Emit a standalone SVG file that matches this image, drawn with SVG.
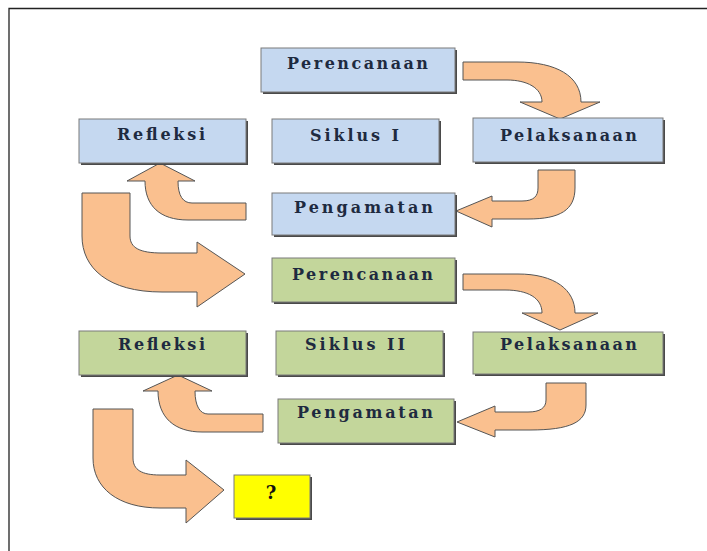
<svg xmlns="http://www.w3.org/2000/svg" width="707" height="551" viewBox="0 0 707 551">
<style>
.sh{fill:#4a4a4a}
.bx{stroke:#7a7a7a;stroke-width:1}
.blue{fill:#c5d8f0}
.green{fill:#c3d69b}
.yel{fill:#ffff00}
.t{font-family:"DejaVu Serif","Liberation Serif",serif;font-weight:bold;font-size:16px;fill:#1e2a40}
.ar{fill:#fac08f;stroke:#555;stroke-width:1;stroke-linejoin:miter}
</style>
<rect width="707" height="551" fill="#ffffff"/>
<path d="M9,551 L9,8.5 L707,8.5" fill="none" stroke="#222" stroke-width="1.3"/>
<g id="connectors">
<path class="ar" d="M463,62 L517,62 C556,62 581,76 581,102 L600,102 L560,119 L520,102 L542,102 C542,88 527,80 507,80 L463,80 Z"/>
<path class="ar" d="M538,170 L575,170 L575,188 C575,210 560,219 528,219 L492,219 L492,227 L456,211 L492,196 L492,201 L522,201 C534,201 538,196 538,188 Z"/>
<path class="ar" d="M246,203 L192,203 C183,203 178,196 178,181 L195,181 L160,163 L127,181 L145,181 C145,206 160,220 188,220 L246,220 Z"/>
<path class="ar" d="M82,193 L130,193 L130,236 C130,248 140,253 162,253 L197,253 L197,242 L245,274 L197,307 L197,292 L162,292 C108,292 82,268 82,236 Z"/>
<path class="ar" d="M463,274 L518,274 C555,274 575,290 575,313 L598,313 L560,330 L522,313 L542,313 C542,298 528,290 505,290 L463,290 Z"/>
<path class="ar" d="M546,383 L586,383 L586,405 C586,422 570,430 530,430 L495,430 L495,437 L457,422 L495,406 L495,412 L528,412 C540,412 546,408 546,400 Z"/>
<path class="ar" d="M263,414 L208,414 C200,414 195,406 195,391 L212,391 L178,375 L143,391 L158,391 C158,418 175,432 202,432 L263,432 Z"/>
<path class="ar" d="M93,409 L133,409 L133,458 C133,470 142,475 160,475 L186,475 L186,460 L224,490 L186,523 L186,508 L160,508 C118,508 93,488 93,458 Z"/>
</g>
<g id="n-perencanaan1">
<rect class="sh" x="263" y="50" width="194" height="44"/>
<rect class="bx blue" x="261" y="48" width="194" height="44"/>
<text class="t" x="287" y="69" textLength="141" lengthAdjust="spacing">Perencanaan</text>
</g>
<g id="n-siklus1">
<rect class="sh" x="274" y="121" width="167" height="44"/>
<rect class="bx blue" x="272" y="119" width="167" height="44"/>
<text class="t" x="310" y="141" textLength="89" lengthAdjust="spacing">Siklus I</text>
</g>
<g id="n-pelaksanaan1">
<rect class="sh" x="475" y="120" width="190" height="44"/>
<rect class="bx blue" x="473" y="118" width="190" height="44"/>
<text class="t" x="500" y="141" textLength="137" lengthAdjust="spacing">Pelaksanaan</text>
</g>
<g id="n-refleksi1">
<rect class="sh" x="81" y="121" width="167" height="44"/>
<rect class="bx blue" x="79" y="119" width="167" height="44"/>
<text class="t" x="117" y="140" textLength="88" lengthAdjust="spacing">Refleksi</text>
</g>
<g id="n-pengamatan1">
<rect class="sh" x="274" y="195" width="183" height="42"/>
<rect class="bx blue" x="272" y="193" width="183" height="42"/>
<text class="t" x="294" y="213" textLength="139" lengthAdjust="spacing">Pengamatan</text>
</g>
<g id="n-perencanaan2">
<rect class="sh" x="274" y="260" width="183" height="44"/>
<rect class="bx green" x="272" y="258" width="183" height="44"/>
<text class="t" x="292" y="280" textLength="141" lengthAdjust="spacing">Perencanaan</text>
</g>
<g id="n-siklus2">
<rect class="sh" x="278" y="333" width="167" height="44"/>
<rect class="bx green" x="276" y="331" width="167" height="44"/>
<text class="t" x="305" y="350" textLength="100" lengthAdjust="spacing">Siklus II</text>
</g>
<g id="n-pelaksanaan2">
<rect class="sh" x="475" y="334" width="190" height="42"/>
<rect class="bx green" x="473" y="332" width="190" height="42"/>
<text class="t" x="500" y="350" textLength="137" lengthAdjust="spacing">Pelaksanaan</text>
</g>
<g id="n-refleksi2">
<rect class="sh" x="81" y="333" width="167" height="44"/>
<rect class="bx green" x="79" y="331" width="167" height="44"/>
<text class="t" x="118" y="350" textLength="87" lengthAdjust="spacing">Refleksi</text>
</g>
<g id="n-pengamatan2">
<rect class="sh" x="280" y="401" width="176" height="44"/>
<rect class="bx green" x="278" y="399" width="176" height="44"/>
<text class="t" x="297" y="418" textLength="136" lengthAdjust="spacing">Pengamatan</text>
</g>
<g id="n-question">
<rect class="sh" x="236" y="477" width="76" height="43"/>
<rect class="bx yel" x="234" y="475" width="76" height="43"/>
<text class="t" x="271" y="499" text-anchor="middle" style="font-size:18px;fill:#111">?</text>
</g>
</svg>
